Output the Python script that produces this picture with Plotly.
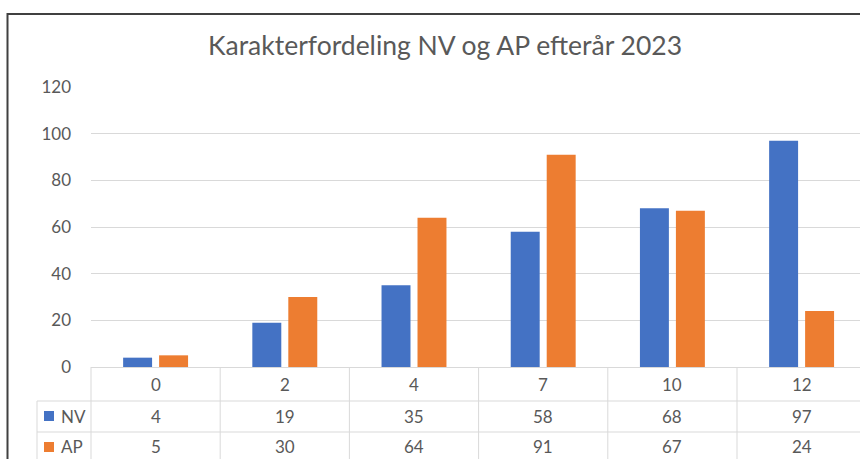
import plotly.graph_objects as go

# ---- data ----
categories = ["0", "2", "4", "7", "10", "12"]
nv_values = [4, 19, 35, 58, 68, 97]
ap_values = [5, 30, 64, 91, 67, 24]
series_names = ["NV", "AP"]
y_ticks = [0, 20, 40, 60, 80, 100, 120]
title_text = "Karakterfordeling NV og AP efterår 2023"

colors = ["#4472C4", "#ED7D31"]
series_values = [nv_values, ap_values]

# ---- layout geometry (pixels) ----
W, H = 860, 459
L, R, T, B = 91, 0, 87, 92
PW, PH = W - L - R, H - T - B
CAT_W = 129.2


def px(X):
    return (X - L) / PW


def py(Y):
    return (H - B - Y) / PH


x_max = -0.5 + PW / CAT_W
FONT = "Lato"
TXT = "#595959"
GRID = "#d9d9d9"

fig = go.Figure()
xs = list(range(len(categories)))
for name, vals, col in zip(series_names, series_values, colors):
    fig.add_trace(go.Bar(x=xs, y=vals, name=name, marker=dict(color=col, line=dict(width=0))))

shapes = []
# table vertical lines (category boundaries)
for i in range(len(categories) + 1):
    X = L + i * CAT_W
    shapes.append(dict(type="line", xref="paper", yref="paper", x0=px(X), x1=px(X),
                       y0=py(367), y1=py(470), line=dict(color=GRID, width=1)))
# legend column left line
shapes.append(dict(type="line", xref="paper", yref="paper", x0=px(37), x1=px(37),
                   y0=py(401), y1=py(470), line=dict(color=GRID, width=1)))
# table horizontal lines
for Y in (401, 432):
    shapes.append(dict(type="line", xref="paper", yref="paper", x0=px(37), x1=px(W + 10),
                       y0=py(Y), y1=py(Y), line=dict(color=GRID, width=1)))
# legend keys
for Yc, col in zip((416, 447), colors):
    shapes.append(dict(type="rect", xref="paper", yref="paper", x0=px(44), x1=px(54),
                       y0=py(Yc - 5), y1=py(Yc + 5), fillcolor=col, line=dict(width=0)))
# outer chart border (top and left)
shapes.append(dict(type="line", xref="paper", yref="paper", x0=px(7), x1=px(W + 10),
                   y0=py(14), y1=py(14), line=dict(color="#404040", width=2)))
shapes.append(dict(type="line", xref="paper", yref="paper", x0=px(7.5), x1=px(7.5),
                   y0=py(13), y1=py(470), line=dict(color="#404040", width=2)))

annotations = []
for i, c in enumerate(categories):
    annotations.append(dict(x=i, xref="x", y=py(384), yref="paper", text=c, showarrow=False,
                            xanchor="center", yanchor="middle",
                            font=dict(family=FONT, size=17, color=TXT)))
for Yc, vals in zip((416, 447), series_values):
    for i, v in enumerate(vals):
        annotations.append(dict(x=i, xref="x", y=py(Yc), yref="paper", text=str(v), showarrow=False,
                                xanchor="center", yanchor="middle",
                                font=dict(family=FONT, size=17, color=TXT)))
for Yc, name in zip((416, 447), series_names):
    annotations.append(dict(x=px(59), xref="paper", y=py(Yc), yref="paper", text=name, showarrow=False,
                            xanchor="left", yanchor="middle",
                            font=dict(family=FONT, size=17, color=TXT)))
annotations.append(dict(x=px(445), xref="paper", y=py(45), yref="paper", text=title_text,
                        showarrow=False, xanchor="center", yanchor="middle",
                        font=dict(family=FONT, size=26.5, color=TXT)))

fig.update_layout(
    width=W, height=H,
    margin=dict(l=L, r=R, t=T, b=B, pad=0),
    paper_bgcolor="white", plot_bgcolor="white",
    barmode="group", bargap=0.443, bargroupgap=0.195,
    showlegend=False,
    shapes=shapes, annotations=annotations,
    xaxis=dict(range=[-0.5, x_max], showticklabels=False, showgrid=False, zeroline=False,
               showline=True, linecolor=GRID, linewidth=1, fixedrange=True),
    yaxis=dict(range=[0, 120], tickvals=y_ticks, showgrid=True, gridcolor=GRID, gridwidth=1,
               zeroline=False, showline=False, ticks="", ticklabelstandoff=19,
               tickfont=dict(family=FONT, size=17, color=TXT), fixedrange=True),
)

fig.write_html("out.html", config={"displayModeBar": False},
               post_script="document.body.style.margin='0';document.body.style.overflow='hidden';")
